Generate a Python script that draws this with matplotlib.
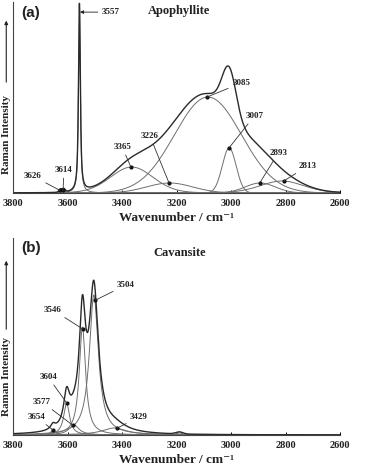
"""Raman OH-stretching region of apophyllite and cavansite with fitted bands"""

import numpy as np
import matplotlib.pyplot as plt

# Apophyllite band fit (centre / cm-1, height, FWHM / cm-1, Lorentzian fraction)
apo_centers = [3626, 3614, 3557, 3365, 3226, 3085, 3007, 2893, 2813]
apo_heights = [3, 3, 188, 26, 10, 96, 45, 10, 12]
apo_fwhm = [14, 12, 8, 185, 200, 290, 60, 130, 190]
apo_eta = [0, 0, 0.8, 0.1, 0, 0, 0, 0, 0.2]
apo_labels = ["3626", "3614", "3557", "3365", "3226", "3085", "3007", "2893", "2813"]
apo_dot_wn = [3629, 3617, 3555, 3368, 3228, 3089, 3008, 2895, 2807]
apo_text_xy = [(3728, 17), (3614, 23), (3474, 181), (3400, 46), (3298, 57),
               (2963, 110), (2915, 77), (2827, 40), (2718, 27)]

# Cavansite band fit
cav_centers = [3654, 3604, 3577, 3546, 3504, 3429, 3190]
cav_heights = [5, 32, 10, 108, 140, 7, 2]
cav_fwhm = [20, 26, 45, 28, 40, 110, 30]
cav_eta = [1, 1, 1, 1, 1, 1, 0]
cav_labels = ["3654", "3604", "3577", "3546", "3504", "3429"]
cav_dot_wn = [3654, 3603, 3581, 3544, 3500, 3419]
cav_text_xy = [(3716, 18), (3672, 58), (3694, 33), (3654, 125), (3386, 150),
               (3338, 18)]

xticks = [3800, 3600, 3400, 3200, 3000, 2800, 2600]

SERIF = ["Liberation Serif", "DejaVu Serif"]


def band(x, c, h, w, eta):
    """pseudo-Voigt profile"""
    d = (x - c) / w
    g = np.exp(-4 * np.log(2) * d ** 2)
    lor = 1 / (1 + 4 * d ** 2)
    return h * (eta * lor + (1 - eta) * g)


def panel(ax, centers, heights, fwhm, eta, labels, dot_wn, text_xy, top,
          arrow_idx=None):
    """Draw components, total and labelled markers"""
    wn = np.linspace(3800, 2600, 4801)
    total = np.zeros_like(wn)
    for c, h, w, e in zip(centers, heights, fwhm, eta):
        y = band(wn, c, h, w, e)
        total += y
        ax.plot(wn, y, color="#6e6e6e", lw=0.7)
    ax.plot(wn, total, color="#2a2a2a", lw=1.0)

    for i, lab in enumerate(labels):
        j = centers.index(int(lab))
        yd = band(dot_wn[i], centers[j], heights[j], fwhm[j], eta[j])
        if i == arrow_idx:
            ax.annotate(lab, xy=(dot_wn[i], text_xy[i][1]), xytext=text_xy[i],
                        ha="left", va="center", fontsize=6.5, fontweight="bold",
                        family=SERIF, color="#222222",
                        arrowprops=dict(arrowstyle="-|>", lw=0.6,
                                        color="#222222", mutation_scale=5,
                                        shrinkA=1, shrinkB=0))
            continue
        ax.annotate(lab, xy=(dot_wn[i], yd), xytext=text_xy[i],
                    ha="center", va="center", fontsize=6.5, fontweight="bold",
                    family=SERIF, color="#222222",
                    arrowprops=dict(arrowstyle="-", lw=0.6, color="#333333",
                                    shrinkA=1, shrinkB=0))
        ax.plot(dot_wn[i], yd, "o", ms=2, color="#111111")

    ax.set_xlim(3800, 2600)
    ax.set_ylim(0, top)
    ax.set_xticks(xticks)
    ax.set_yticks([])
    for s in ["top", "right"]:
        ax.spines[s].set_visible(False)
    for s in ["left", "bottom"]:
        ax.spines[s].set_linewidth(0.8)
        ax.spines[s].set_color("#444444")
    ax.tick_params(axis="x", direction="in", length=2.5, width=0.7, pad=4)
    for t in ax.get_xticklabels():
        t.set_fontfamily(SERIF)
        t.set_fontweight("bold")
        t.set_fontsize(7.5)
        t.set_color("#222222")
    ax.set_xlabel("Wavenumber / cm\u207b\u00b9", family=SERIF, fontweight="bold",
                  fontsize=9.5, labelpad=3, color="#222222")


def ylabel(fig, yc, y0, y1):
    """Raman Intensity label with upward arrow"""
    fig.text(0.017, yc, "Raman Intensity", rotation=90, ha="center",
             va="center", family=SERIF, fontweight="bold", fontsize=8,
             color="#222222")
    fig.patches.append(plt.matplotlib.patches.FancyArrowPatch(
        (0.017, y0), (0.017, y1), transform=fig.transFigure,
        arrowstyle="-|>", mutation_scale=5, lw=0.8, color="#222222"))


def main():
    """Main function"""
    fig = plt.figure(figsize=(3.68, 4.69), dpi=100)
    ax1 = fig.add_axes([0.036, 0.5885, 0.888, 0.407])
    ax2 = fig.add_axes([0.036, 0.0725, 0.888, 0.42])

    panel(ax1, apo_centers, apo_heights, apo_fwhm, apo_eta, apo_labels,
          apo_dot_wn, apo_text_xy, 191, arrow_idx=2)
    panel(ax2, cav_centers, cav_heights, cav_fwhm, cav_eta, cav_labels,
          cav_dot_wn, cav_text_xy, 197)

    fig.text(0.486, 0.976, "Apophyllite", ha="center", va="center",
             family=SERIF, fontweight="bold", fontsize=9, color="#222222")
    fig.text(0.489, 0.461, "Cavansite", ha="center", va="center",
             family=SERIF, fontweight="bold", fontsize=9, color="#222222")
    fig.text(0.058, 0.972, "(a)", ha="left", va="center",
             family=["Liberation Sans", "DejaVu Sans"], fontweight="bold",
             fontsize=11, color="#222222")
    fig.text(0.058, 0.471, "(b)", ha="left", va="center",
             family=["Liberation Sans", "DejaVu Sans"], fontweight="bold",
             fontsize=11, color="#222222")

    ylabel(fig, 0.714, 0.819, 0.962)
    ylabel(fig, 0.198, 0.292, 0.45)

    plt.savefig("out.png", dpi=100)


if __name__ == '__main__':
    main()
